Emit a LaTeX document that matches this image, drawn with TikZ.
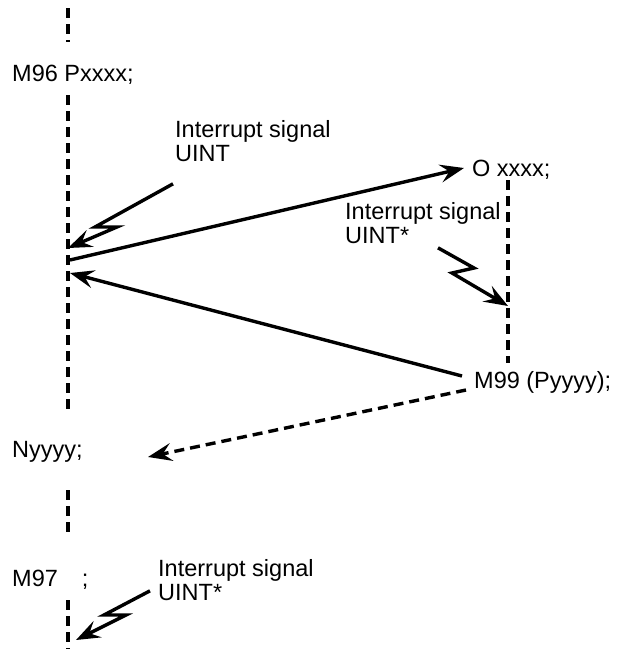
\documentclass[tikz,border=0pt]{standalone}
\usepackage{fontspec}
\setmainfont{Liberation Sans}
\usetikzlibrary{arrows.meta}
\begin{document}
\begin{tikzpicture}[x=1pt,y=-1pt,
	txt/.style={ anchor=west, inner sep=0pt, align=left, font=\fontsize{23.5}{24}\selectfont },
	prog/.style={ line width=3.8pt, dash pattern=on 10pt off 6pt },
	jump/.style={ line width=3.4pt, -{Stealth[length=24pt,width=18pt,inset=9pt]} },
	bolt/.style={ line width=3.4pt, line join=miter, -{Stealth[length=24pt,width=18pt,inset=9pt]} }
]
\useasboundingbox (0,0) rectangle (618,649);

\node at (12,75) (mstart) [txt] {M96 Pxxxx;};
\node at (175,141) (uint) [txt] {Interrupt signal\\UINT};
\node at (472,170) (osub) [txt] {O xxxx;};
\node at (345,223) (uintsub) [txt] {Interrupt signal\\UINT*};
\node at (474,382) (mret) [txt] {M99 (Pyyyy);};
\node at (12,452) (nret) [txt] {Nyyyy;};
\node at (12,580) (mend) [txt] {M97\hspace{24pt};};
\node at (158,580) (uintend) [txt] {Interrupt signal\\UINT*};

% program lines
\coordinate (t0) at (68,8);   \coordinate (t1) at (68,42);
\coordinate (a0) at (68,95);  \coordinate (a1) at (68,410);
\coordinate (b0) at (68,490); \coordinate (b1) at (68,532);
\coordinate (c0) at (68,600); \coordinate (c1) at (68,649);
\coordinate (s0) at (508,180); \coordinate (s1) at (508,363);
\foreach \p/\q in {t0/t1,a0/a1,b0/b1,c0/c1,s0/s1}
  \draw[prog] (\p) to (\q);

% jumps
\coordinate (call) at (70,260);
\coordinate (ret) at (70,273);
\coordinate (back) at (148,457);
\draw[jump] (call) to ([xshift=-8pt,yshift=2pt]osub.west);
\draw[jump] ([xshift=-12pt,yshift=6pt]mret.west) to (ret);
\draw[jump, dash pattern=on 10pt off 6pt] ([xshift=-8pt,yshift=-8pt]mret.west) to (back);

% interrupt signals
\coordinate (hit1) at (68,248);
\coordinate (hit2) at (508,306);
\coordinate (hit3) at (76,640);
\draw[bolt] ([shift={(-2pt,-22pt)}]uint.south west) -- (95,227) -- (117,227) -- (hit1);
\draw[bolt] ([shift={(93pt,-4pt)}]uintsub.south west) -- (474,268) -- (452,273) -- (hit2);
\draw[bolt] ([shift={(-8pt,10pt)}]uintend.south west) -- (104,615) -- (126,615) -- (hit3);

\end{tikzpicture}
\end{document}
